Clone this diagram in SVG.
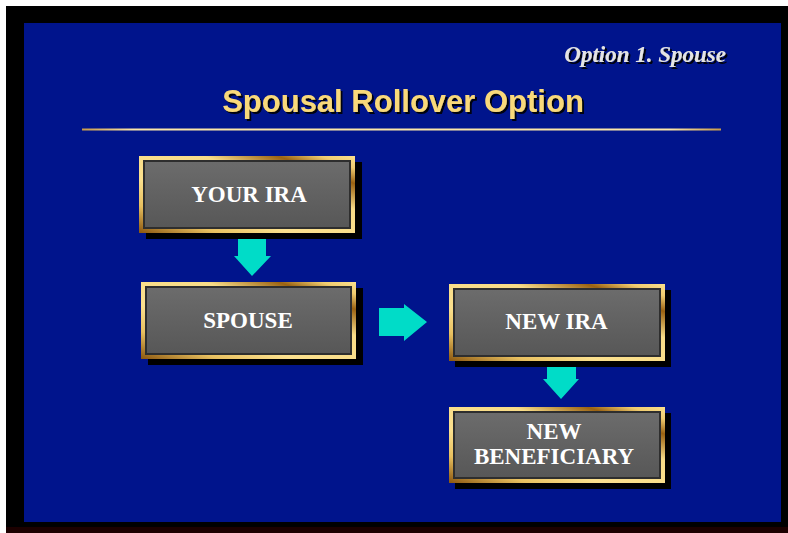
<svg xmlns="http://www.w3.org/2000/svg" width="788" height="533" viewBox="0 0 788 533">
<defs>
<linearGradient id="gold" x1="0" y1="1" x2="1" y2="0">
<stop offset="0" stop-color="#8a560f"/>
<stop offset="0.18" stop-color="#e8c060"/>
<stop offset="0.35" stop-color="#fbe08e"/>
<stop offset="0.65" stop-color="#f8dc88"/>
<stop offset="0.82" stop-color="#9a6212"/>
<stop offset="0.92" stop-color="#f0cc70"/>
<stop offset="1" stop-color="#fbe08e"/>
</linearGradient>
<linearGradient id="gray" x1="0" y1="0" x2="0" y2="1">
<stop offset="0" stop-color="#6c6c6c"/>
<stop offset="1" stop-color="#575757"/>
</linearGradient>
<linearGradient id="rule" x1="0" y1="0" x2="1" y2="0">
<stop offset="0" stop-color="#c89a48"/>
<stop offset="0.08" stop-color="#fbe6a8"/>
<stop offset="0.92" stop-color="#fbe6a8"/>
<stop offset="1" stop-color="#c89a48"/>
</linearGradient>
<filter id="tsh" x="-10%" y="-30%" width="120%" height="160%">
<feDropShadow dx="2" dy="2" stdDeviation="0.4" flood-color="#000" flood-opacity="0.9"/>
</filter>
</defs>
<style>
.shadow{fill:#000}
.frame{fill:url(#gold)}
.face{fill:url(#gray);stroke:#2e2e2e;stroke-width:2}
.lbl{font-family:"Liberation Serif","Times New Roman",serif;font-weight:bold;font-size:23px;fill:#ffffff;text-anchor:middle}
.arrow{fill:#00dcc8}
</style>
<rect x="0" y="0" width="788" height="533" fill="#ffffff"/>
<rect x="6" y="6" width="782" height="521" fill="#000000"/>
<rect x="6" y="527" width="782" height="6" fill="#1c0000"/>
<rect x="24" y="23" width="757" height="499" fill="#00148c"/>

<text x="726" y="62" font-family="'Liberation Serif','Times New Roman',serif" font-weight="bold" font-style="italic" font-size="23" fill="#e4e4e4" text-anchor="end" filter="url(#tsh)">Option 1. Spouse</text>
<text x="403" y="112" font-family="'Liberation Sans',Arial,sans-serif" font-weight="bold" font-size="31" fill="#f9d97a" text-anchor="middle" filter="url(#tsh)">Spousal Rollover Option</text>
<rect x="82" y="128.5" width="639" height="2" fill="url(#rule)"/>

<g id="connectors">
<polygon class="arrow" points="238,238 266,238 266,256 271,256 252,276 234,256 238,256"/>
<polygon class="arrow" points="379,308 404,308 404,304 427,322 404,341 404,336 379,336"/>
<polygon class="arrow" points="547,366 576,366 576,379 579,379 561,399 543,379 547,379"/>
</g>

<g id="your-ira">
<rect class="shadow" x="146" y="162" width="216" height="77"/>
<rect class="frame" x="139" y="156" width="216" height="77"/>
<rect class="face" x="144" y="161" width="206" height="67"/>
<text class="lbl" x="249" y="202">YOUR IRA</text>
</g>

<g id="spouse">
<rect class="shadow" x="148" y="288" width="215" height="77"/>
<rect class="frame" x="141" y="282" width="215" height="77"/>
<rect class="face" x="146" y="287" width="205" height="67"/>
<text class="lbl" x="248" y="328">SPOUSE</text>
</g>

<g id="new-ira">
<rect class="shadow" x="455" y="290" width="216" height="77"/>
<rect class="frame" x="449" y="284" width="216" height="77"/>
<rect class="face" x="454" y="289" width="206" height="67"/>
<text class="lbl" x="556.5" y="328.5">NEW IRA</text>
</g>

<g id="new-beneficiary">
<rect class="shadow" x="455" y="413" width="216" height="76"/>
<rect class="frame" x="449" y="407" width="216" height="76"/>
<rect class="face" x="454" y="412" width="206" height="66"/>
<text class="lbl" x="554" y="439">NEW</text>
<text class="lbl" x="554" y="464">BENEFICIARY</text>
</g>
</svg>
